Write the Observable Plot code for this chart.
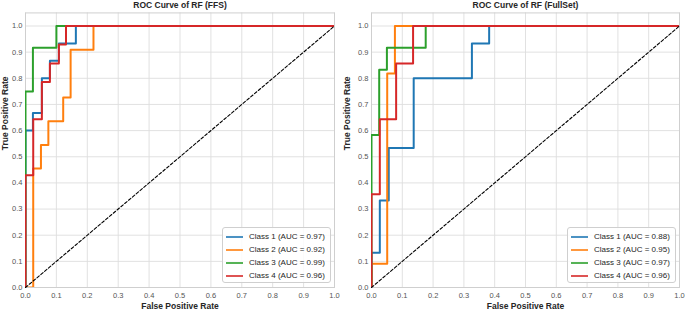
<!DOCTYPE html>
<html>
<head>
<meta charset="utf-8">
<script src="https://cdn.jsdelivr.net/npm/d3@7"></script>
<script src="https://cdn.jsdelivr.net/npm/@observablehq/plot@0.6"></script>
<style>
  html, body { margin: 0; padding: 0; background: #fff; }
  #wrap { position: relative; width: 685px; height: 310px; font-family: "Liberation Sans", Arial, sans-serif; }
  .panel { position: absolute; top: 0; }
  .legend { position: absolute; box-sizing: border-box; border: 1px solid #cfcfcf; border-radius: 3px; background: rgba(255,255,255,0.85); padding: 2px 0 0 0; }
  .legend .row { display: flex; align-items: center; height: 13px; font-size: 8px; color: #262626; white-space: nowrap; }
  .legend svg { margin: 0 6px 0 3px; display: block; }
</style>
</head>
<body>
<div id="wrap"></div>
<script>
// ---- data ----
const titles = ["ROC Curve of RF (FFS)", "ROC Curve of RF (FullSet)"];
const classes = ["Class 1", "Class 2", "Class 3", "Class 4"];
const colors = ["#1f77b4", "#ff7f0e", "#2ca02c", "#d62728"];
const aucFFS = [0.97, 0.92, 0.99, 0.96];
const aucFull = [0.88, 0.95, 0.97, 0.96];
const ticks = [0, 0.1, 0.2, 0.3, 0.4, 0.5, 0.6, 0.7, 0.8, 0.9, 1.0];
const diag = [0, 1];
const xLabel = "False Positive Rate";
const yLabel = "True Positive Rate";

// FFS panel
const ffsC1Fpr = [0, 0, 0.024, 0.024, 0.053, 0.053, 0.079, 0.079, 0.108, 0.108, 0.163, 0.163, 1];
const ffsC1Tpr = [0, 0.6, 0.6, 0.667, 0.667, 0.8, 0.8, 0.867, 0.867, 0.933, 0.933, 1, 1];
const ffsC2Fpr = [0, 0.025, 0.025, 0.05, 0.05, 0.074, 0.074, 0.122, 0.122, 0.146, 0.146, 0.22, 0.22, 1];
const ffsC2Tpr = [0, 0, 0.455, 0.455, 0.545, 0.545, 0.636, 0.636, 0.727, 0.727, 0.909, 0.909, 1, 1];
const ffsC3Fpr = [0, 0, 0.024, 0.024, 0.1, 0.1, 1];
const ffsC3Tpr = [0, 0.75, 0.75, 0.917, 0.917, 1, 1];
const ffsC4Fpr = [0, 0, 0.025, 0.025, 0.053, 0.053, 0.079, 0.079, 0.108, 0.108, 0.131, 0.131, 1];
const ffsC4Tpr = [0, 0.429, 0.429, 0.643, 0.643, 0.786, 0.786, 0.857, 0.857, 0.929, 0.929, 1, 1];

// FullSet panel
const fullC1Fpr = [0, 0, 0.027, 0.027, 0.056, 0.056, 0.137, 0.137, 0.326, 0.326, 0.382, 0.382, 1];
const fullC1Tpr = [0, 0.133, 0.133, 0.333, 0.333, 0.533, 0.533, 0.8, 0.8, 0.933, 0.933, 1, 1];
const fullC2Fpr = [0, 0, 0.051, 0.051, 0.076, 0.076, 1];
const fullC2Tpr = [0, 0.091, 0.091, 0.818, 0.818, 1, 1];
const fullC3Fpr = [0, 0, 0.025, 0.025, 0.05, 0.05, 0.176, 0.176, 1];
const fullC3Tpr = [0, 0.583, 0.583, 0.833, 0.833, 0.917, 0.917, 1, 1];
const fullC4Fpr = [0, 0, 0.027, 0.027, 0.08, 0.08, 0.135, 0.135, 1];
const fullC4Tpr = [0, 0.357, 0.357, 0.643, 0.643, 0.857, 0.857, 1, 1];

// ---- build ----
function series(pairs) {
  return pairs.map(([f, t], k) => f.map((v, i) => ({fpr: v, tpr: t[i], cls: classes[k]})));
}
const panels = [
  {title: titles[0], auc: aucFFS, series: series([[ffsC1Fpr, ffsC1Tpr], [ffsC2Fpr, ffsC2Tpr], [ffsC3Fpr, ffsC3Tpr], [ffsC4Fpr, ffsC4Tpr]]),
   left: 0, width: 342, ml: 25, mr: 8},
  {title: titles[1], auc: aucFull, series: series([[fullC1Fpr, fullC1Tpr], [fullC2Fpr, fullC2Tpr], [fullC3Fpr, fullC3Tpr], [fullC4Fpr, fullC4Tpr]]),
   left: 342, width: 343, ml: 29, mr: 6}
];

const wrap = document.getElementById("wrap");
const fmt = d3.format(".1f");
const font = "Liberation Sans, Arial, sans-serif";

panels.forEach(p => {
  const svg = Plot.plot({
    width: p.width, height: 310,
    marginLeft: p.ml, marginRight: p.mr, marginTop: 12.425, marginBottom: 23,
    style: {fontFamily: font, background: "transparent", overflow: "visible"},
    x: {domain: [0, 1]},
    y: {domain: [0, 1.05]},
    color: {domain: classes, range: colors},
    marks: [
      Plot.gridX(ticks, {stroke: "#dedede", strokeOpacity: 1, strokeWidth: 0.9}),
      Plot.gridY(ticks, {stroke: "#dedede", strokeOpacity: 1, strokeWidth: 0.9}),
      Plot.frame({stroke: "#cfcfcf", strokeWidth: 1}),
      Plot.axisX(ticks, {tickSize: 0, tickPadding: 5, tickFormat: fmt, fontSize: 7.5, fill: "#555", label: null}),
      Plot.axisY(ticks, {tickSize: 0, tickPadding: 3, tickFormat: fmt, fontSize: 7.5, fill: "#555", label: null}),
      ...p.series.map(s => Plot.line(s, {x: "fpr", y: "tpr", stroke: "cls", strokeWidth: 2, strokeOpacity: 1, clip: true})),
      Plot.line(diag, {x: d => d, y: d => d, stroke: "black", strokeWidth: 1.1, strokeDasharray: "3,2"}),
      Plot.text([p.title], {frameAnchor: "top", lineAnchor: "middle", dy: -7.4, fontSize: 8.5, fontWeight: "bold", fill: "#262626"}),
      Plot.text([xLabel], {frameAnchor: "bottom", lineAnchor: "middle", dy: 19, fontSize: 8.5, fontWeight: "bold", fill: "#262626"}),
      Plot.text([yLabel], {frameAnchor: "left", lineAnchor: "middle", dx: -p.ml + 4.5, rotate: -90, fontSize: 8.5, fontWeight: "bold", fill: "#262626"})
    ]
  });
  svg.classList.add("panel");
  svg.style.left = p.left + "px";
  wrap.appendChild(svg);

  const lg = document.createElement("div");
  lg.className = "legend";
  const frameRight = p.left + p.width - p.mr;
  lg.style.left = (frameRight - 112) + "px";
  lg.style.top = "227px";
  lg.style.width = "109px";
  lg.style.height = "56px";
  classes.forEach((c, k) => {
    const r = document.createElement("div");
    r.className = "row";
    r.innerHTML = `<svg width="17" height="4"><line x1="0" x2="17" y1="2" y2="2" stroke="${colors[k]}" stroke-width="1.6"/></svg>`;
    r.appendChild(document.createTextNode(`${c} (AUC = ${p.auc[k].toFixed(2)})`));
    lg.appendChild(r);
  });
  wrap.appendChild(lg);
});
</script>
</body>
</html>
